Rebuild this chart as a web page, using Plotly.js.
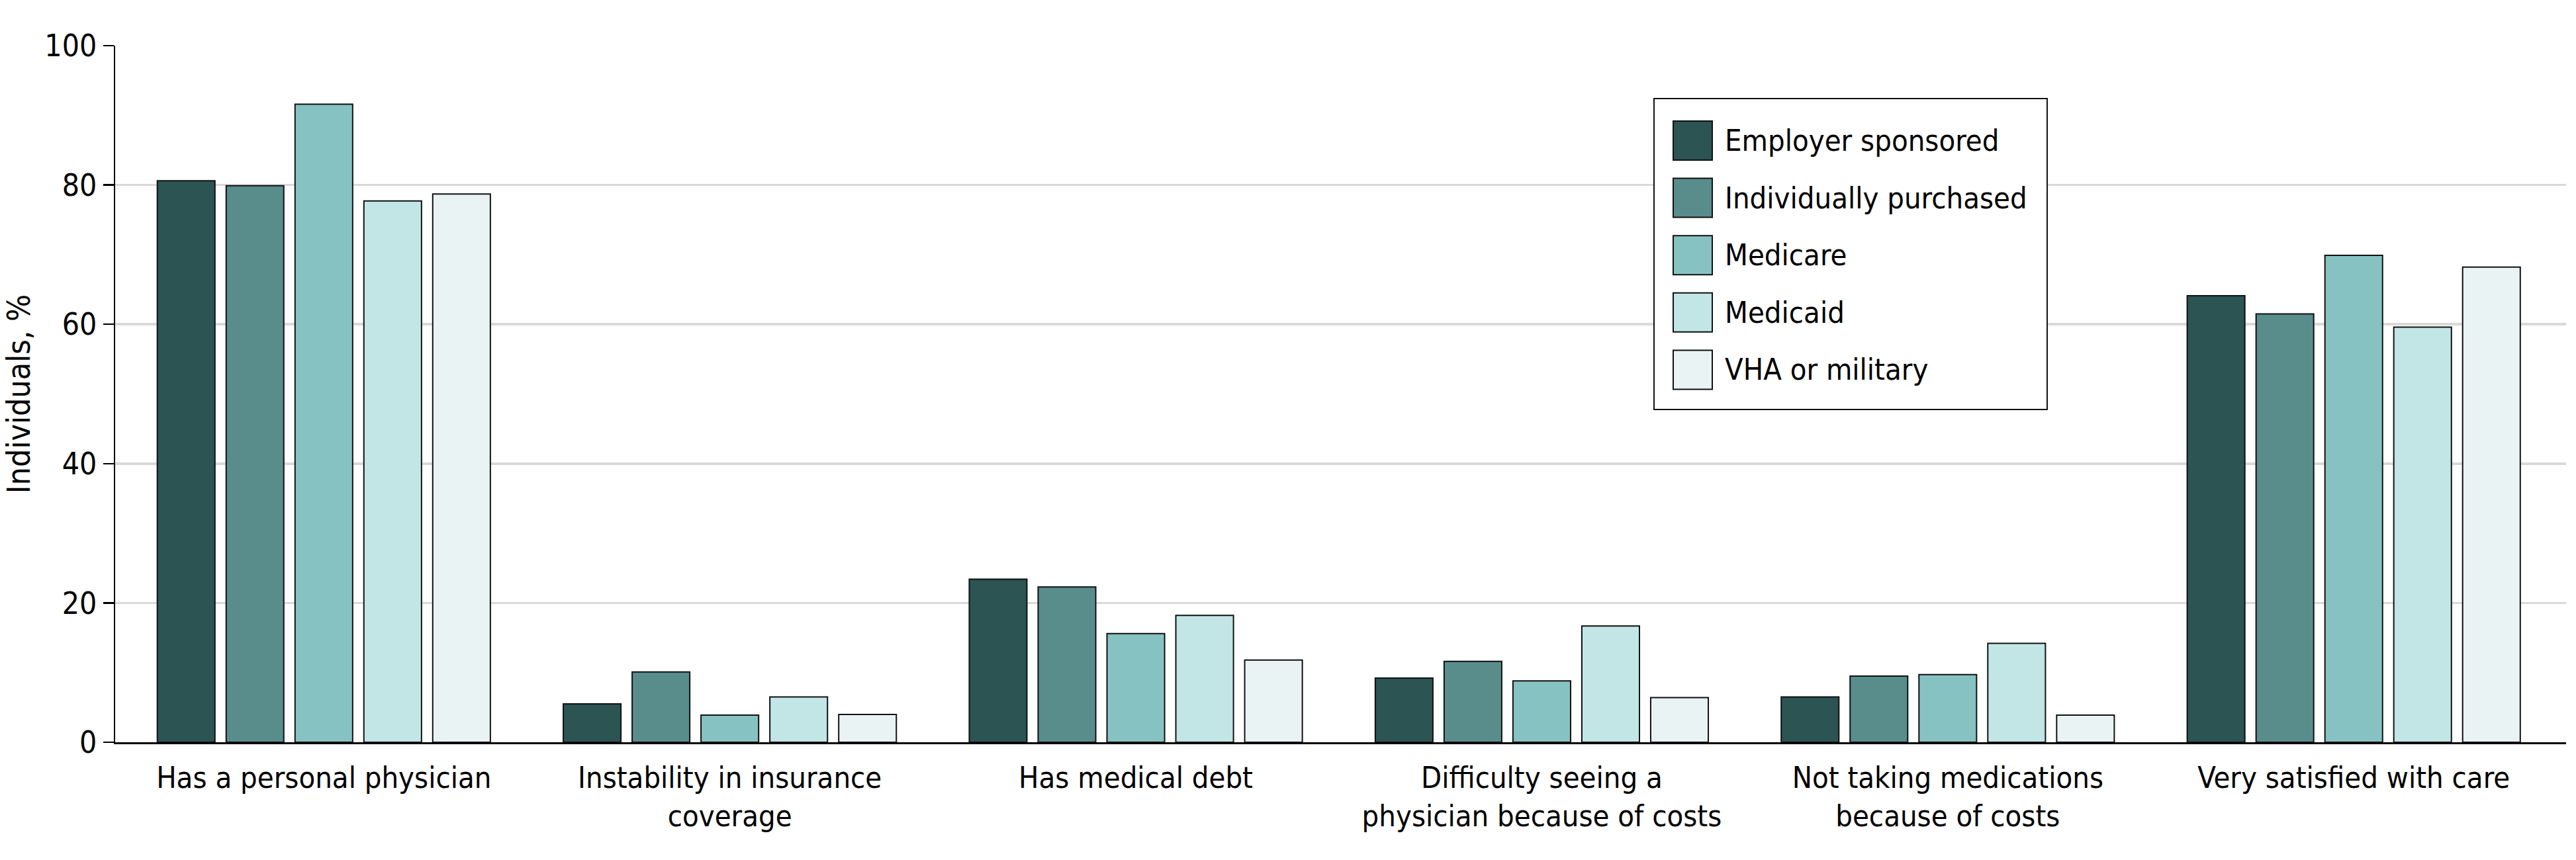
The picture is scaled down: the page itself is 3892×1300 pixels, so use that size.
<!DOCTYPE html>
<html>
<head>
<meta charset="utf-8">
<script src="https://cdn.plot.ly/plotly-3.0.1.min.js"></script>
<style>
  body { margin: 0; background: #fff; }
  #plotArea { width: 3892px; height: 1300px; }
</style>
</head>
<body>
<div id="plotArea"></div>
<script>
// categories on the x axis (line breaks as in the figure)
var categories = [
    "Has a personal physician",
    "Instability in insurance<br>coverage",
    "Has medical debt",
    "Difficulty seeing a<br>physician because of costs",
    "Not taking medications<br>because of costs",
    "Very satisfied with care"
];

// insurance types, one series each
var seriesNames = ["Employer sponsored", "Individually purchased", "Medicare", "Medicaid", "VHA or military"];
var seriesColors = ["#2B5453", "#588D8C", "#86C2C1", "#C1E6E5", "#EAF3F4"];

// values, % of individuals
var employer   = [80.6, 5.5, 23.4, 9.2, 6.5, 64.1];
var individual = [79.9, 10.1, 22.3, 11.6, 9.5, 61.5];
var medicare   = [91.6, 3.9, 15.6, 8.8, 9.7, 69.9];
var medicaid   = [77.7, 6.5, 18.2, 16.7, 14.2, 59.6];
var vha        = [78.7, 4.0, 11.8, 6.4, 3.9, 68.2];

var yTicks = [0, 20, 40, 60, 80, 100];

var seriesValues = [employer, individual, medicare, medicaid, vha];
var font = "Liberation Sans Narrow, DejaVu Sans Condensed, Arial Narrow, sans-serif";

var traces = seriesNames.map(function (name, i) {
    return {
        x: categories,
        y: seriesValues[i],
        name: name,
        type: "bar",
        marker: {color: seriesColors[i], line: {color: "#111", width: 2}},
        showlegend: false,
        hoverinfo: "y"
    };
});

// plot box in page pixels, used to place the hand-built legend
var L = 174, R = 3877, T = 69, B = 1122;
function px(x) { return (x - L) / (R - L); }
function py(y) { return (B - y) / (B - T); }

var shapes = [{
    type: "rect", xref: "paper", yref: "paper",
    x0: px(2499), x1: px(3093), y0: py(149), y1: py(619),
    line: {color: "#111", width: 2}, fillcolor: "#fff", layer: "above"
}];
var annotations = [];
seriesNames.forEach(function (name, i) {
    var top = 183 + i * 86.6;
    shapes.push({
        type: "rect", xref: "paper", yref: "paper",
        x0: px(2528), x1: px(2587), y0: py(top), y1: py(top + 59),
        line: {color: "#111", width: 2}, fillcolor: seriesColors[i], layer: "above"
    });
    annotations.push({
        xref: "paper", yref: "paper", x: px(2604), y: py(top + 29.5),
        xanchor: "left", yanchor: "middle", showarrow: false,
        text: name, font: {family: font, size: 45, color: "#000"}
    });
});

var layout = {
    width: 3892,
    height: 1300,
    margin: {l: L, r: 3892 - R, t: T, b: 1300 - B},
    paper_bgcolor: "#fff",
    plot_bgcolor: "#fff",
    font: {family: font, size: 46, color: "#000"},
    barmode: "group",
    bargap: 0.152,
    bargroupgap: 0.163,
    xaxis: {
        type: "category",
        range: [-0.514, 5.523],
        showline: true, linecolor: "#000", linewidth: 2.5,
        ticks: "", showgrid: false, zeroline: false,
        tickfont: {size: 45},
        ticklabelstandoff: 12
    },
    yaxis: {
        range: [0, 100],
        tickvals: yTicks,
        showline: true, linecolor: "#000", linewidth: 2.5,
        ticks: "outside", ticklen: 16, tickwidth: 2.5, tickcolor: "#000",
        showgrid: true, gridcolor: "#D9D9D9", gridwidth: 3.5,
        zeroline: false,
        tickfont: {size: 46},
        title: {text: "Individuals, %", font: {size: 48}, standoff: 14}
    },
    shapes: shapes,
    annotations: annotations
};

Plotly.newPlot("plotArea", traces, layout, {staticPlot: true});
</script>
</body>
</html>
